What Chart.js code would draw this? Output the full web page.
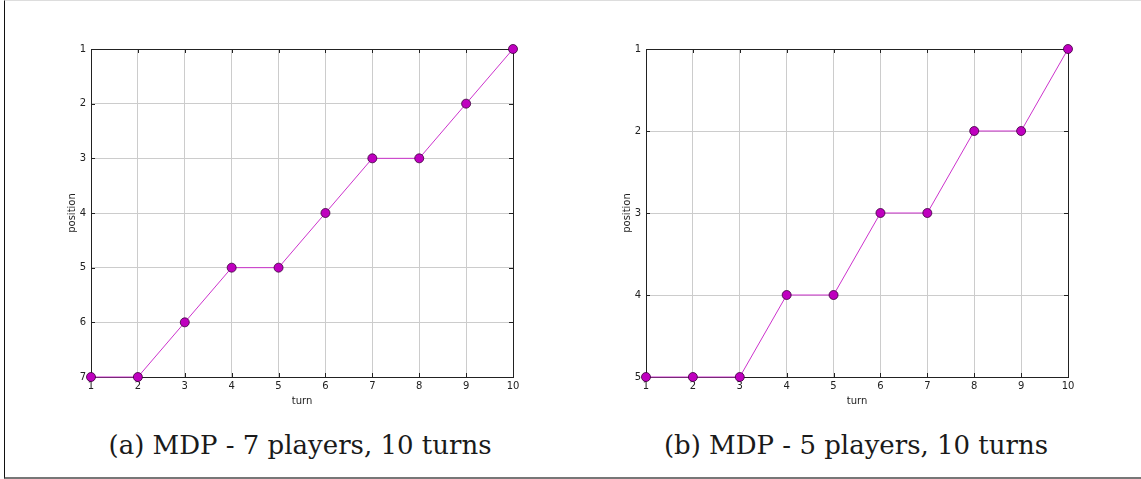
<!DOCTYPE html>
<html>
<head>
<meta charset="utf-8">
<script src="https://cdn.jsdelivr.net/npm/chart.js@4.4.0/dist/chart.umd.min.js"></script>
<style>
  body { margin: 0; background: #fff; width: 1141px; height: 479px; overflow: hidden; position: relative; }
  .frame { position: absolute; left: 4px; top: 0; width: 1137px; height: 479px;
           border-left: 1px solid #111; border-top: 1px solid #ddd; border-bottom: 2px solid #777; box-sizing: border-box; }
  .box { position: absolute; top: 0; width: 560px; height: 407px; }
  .cap { position: absolute; top: 430px; width: 500px; text-align: center;
         font-family: "DejaVu Serif", serif; font-size: 26px; color: #1a1a1a; }
</style>
</head>
<body>
<div class="frame"></div>
<div class="box" style="left:0"><canvas id="chartA"></canvas></div>
<div class="box" style="left:555px"><canvas id="chartB"></canvas></div>
<div class="cap" style="left:50px">(a) MDP - 7 players, 10 turns</div>
<div class="cap" style="left:606px">(b) MDP - 5 players, 10 turns</div>
<script>
const turns = [1, 2, 3, 4, 5, 6, 7, 8, 9, 10];
const positions7 = [7, 7, 6, 5, 5, 4, 3, 3, 2, 1];
const positions5 = [5, 5, 5, 4, 4, 3, 3, 2, 2, 1];

// matplotlib-style closed box with small inward ticks
const boxPlugin = {
    id: 'box',
    beforeDatasetsDraw(chart) {
        const { ctx, chartArea: a, scales } = chart;
        ctx.save();
        ctx.strokeStyle = '#222';
        ctx.lineWidth = 1;
        ctx.beginPath();
        scales.x.ticks.forEach(t => {
            const px = Math.round(scales.x.getPixelForValue(t.value)) + 0.5;
            ctx.moveTo(px, a.top); ctx.lineTo(px, a.top + 4);
            ctx.moveTo(px, a.bottom); ctx.lineTo(px, a.bottom - 4);
        });
        scales.y.ticks.forEach(t => {
            const py = Math.round(scales.y.getPixelForValue(t.value)) + 0.5;
            ctx.moveTo(a.left, py); ctx.lineTo(a.left + 4, py);
            ctx.moveTo(a.right, py); ctx.lineTo(a.right - 4, py);
        });
        ctx.stroke();
        ctx.strokeRect(Math.round(a.left) + 0.5, Math.round(a.top) + 0.5,
            Math.round(a.right - a.left), Math.round(a.bottom - a.top));
        ctx.restore();
    }
};

function makeChart(id, values, maxPos) {
    const ctx = document.getElementById(id).getContext('2d');
    return new Chart(ctx, {
        type: 'line',
        data: {
            datasets: [{
                data: turns.map((t, i) => ({ x: t, y: values[i] })),
                borderColor: '#cc33cc',
                borderWidth: 1,
                backgroundColor: '#bf00bf',
                pointBackgroundColor: '#bf00bf',
                pointBorderColor: '#3a003a',
                pointBorderWidth: 0.8,
                pointRadius: 4.5,
                tension: 0,
                clip: false
            }]
        },
        options: {
            responsive: true,
            maintainAspectRatio: false,
            animation: false,
            layout: { padding: { left: 66, top: 49, right: 47, bottom: 0 } },
            plugins: { legend: { display: false }, tooltip: { enabled: false } },
            scales: {
                x: {
                    type: 'linear', min: 1, max: 10,
                    afterFit: s => { s.height = 30; },
                    ticks: { stepSize: 1, padding: 3, color: '#222', font: { family: 'DejaVu Sans', size: 10 } },
                    grid: { color: '#cccccc', drawTicks: false },
                    border: { color: '#222' },
                    title: { display: true, text: 'turn', padding: 0, color: '#222', font: { family: 'DejaVu Sans', size: 10 } }
                },
                y: {
                    type: 'linear', min: 1, max: maxPos, reverse: true,
                    afterFit: s => { s.width = 25; },
                    ticks: { stepSize: 1, padding: 5, color: '#222', font: { family: 'DejaVu Sans', size: 10 } },
                    grid: { color: '#cccccc', drawTicks: false },
                    border: { color: '#222' },
                    title: { display: true, text: 'position', padding: 0, color: '#222', font: { family: 'DejaVu Sans', size: 10 } }
                }
            }
        },
        plugins: [boxPlugin]
    });
}

makeChart('chartA', positions7, 7);
makeChart('chartB', positions5, 5);
</script>
</body>
</html>
